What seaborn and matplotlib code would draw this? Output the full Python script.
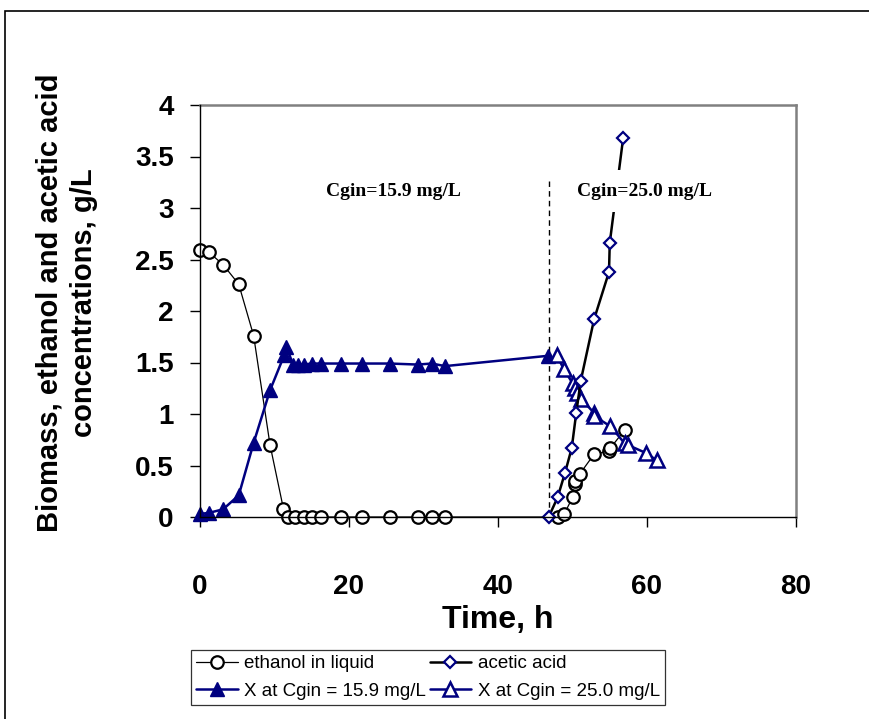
import matplotlib
matplotlib.use("Agg")
import matplotlib.pyplot as plt
import seaborn as sns
import numpy as np
import pandas as pd
from matplotlib.patches import Rectangle
from matplotlib.ticker import FormatStrFormatter

# ---- data ----
eth_t = [0, 1.2, 3.1, 5.2, 7.2, 9.4, 11.2, 11.8, 12.7, 13.9, 15.0, 16.2, 18.9,
         21.8, 25.5, 29.2, 31.1, 32.9, 48.0, 48.9, 50.0, 50.3, 50.4, 51.0,
         52.9, 54.9, 55.1, 57.0]
eth_v = [2.59, 2.57, 2.45, 2.26, 1.76, 0.70, 0.08, 0, 0, 0, 0, 0, 0,
         0, 0, 0, 0, 0, 0, 0.03, 0.19, 0.32, 0.35, 0.42,
         0.61, 0.64, 0.67, 0.845]

acid_t = [46.8, 48.0, 49.0, 49.9, 50.5, 51.1, 52.9, 54.9, 55.0, 56.8]
acid_v = [0, 0.19, 0.43, 0.67, 1.01, 1.32, 1.92, 2.38, 2.66, 3.68]

x159_t = [0, 1.2, 3.1, 5.2, 7.2, 9.4, 11.3, 11.6, 12.5, 13.2, 13.9, 15.0, 16.2,
          18.9, 21.8, 25.5, 29.2, 31.1, 32.9, 46.7]
x159_v = [0.03, 0.04, 0.075, 0.21, 0.72, 1.23, 1.57, 1.65, 1.48, 1.48, 1.48,
          1.49, 1.49, 1.49, 1.49, 1.49, 1.48, 1.49, 1.465, 1.565]

x250_t = [47.9, 48.8, 50.0, 50.3, 50.6, 51.1, 52.9, 52.9, 55.1, 57.0, 57.4,
          59.9, 61.3]
x250_v = [1.57, 1.44, 1.30, 1.25, 1.20, 1.15, 1.01, 0.98, 0.88, 0.715, 0.70,
          0.62, 0.55]

labels = ["ethanol in liquid", "acetic acid",
          "X at Cgin = 15.9 mg/L", "X at Cgin = 25.0 mg/L"]
xticks = [0, 20, 40, 60, 80]
yticks = [0, 0.5, 1, 1.5, 2, 2.5, 3, 3.5, 4]
switch_t = 46.8

NAVY = "#000080"

sns.set_style("white")
plt.rcParams["font.family"] = ["Liberation Sans", "DejaVu Sans"]
for k in ["text.color", "axes.labelcolor", "xtick.color", "ytick.color"]:
    plt.rcParams[k] = "black"

W, H = 869, 719
fig = plt.figure(figsize=(W / 100, H / 100), dpi=100)
ax = fig.add_axes([200 / W, 1 - 517 / H, (796 - 200) / W, (517 - 105) / H])

common = dict(estimator=None, sort=False, ax=ax, legend=False)

sns.lineplot(x=eth_t, y=eth_v, color="black", lw=0.9, marker="o",
             markersize=9, mfc="white", mec="black", mew=1.6,
             label=labels[0], clip_on=False, zorder=3, **common)
sns.lineplot(x=acid_t, y=acid_v, color="black", lw=1.8, marker="D",
             markersize=6.5, mfc="white", mec=NAVY, mew=1.6,
             label=labels[1], clip_on=False, zorder=4, **common)
sns.lineplot(x=x159_t, y=x159_v, color=NAVY, lw=1.8, marker="^",
             markersize=10, mfc=NAVY, mec=NAVY, mew=1.0,
             label=labels[2], clip_on=False, zorder=3, **common)
sns.lineplot(x=x250_t, y=x250_v, color=NAVY, lw=1.8, marker="^",
             markersize=9.5, mfc="white", mec=NAVY, mew=1.8,
             label=labels[3], clip_on=False, zorder=3, **common)

ax.vlines(switch_t, 0, 3.26, colors="black", linestyles=(0, (4, 3)), lw=1.0,
          zorder=2)

tfont = dict(family=["Liberation Serif", "DejaVu Serif"], fontweight="bold",
             fontsize=14, color="black")
ax.text(26.0, 3.165, "Cgin=15.9 mg/L", ha="center", va="center",
        zorder=6, **tfont)
ax.text(59.7, 3.165, "Cgin=25.0 mg/L", ha="center", va="center", zorder=6,
        bbox=dict(facecolor="white", edgecolor="none", pad=9), **tfont)

ax.set_xlim(0, 80)
ax.set_ylim(0, 4)
ax.set_xticks(xticks)
ax.set_yticks(yticks)
ax.yaxis.set_major_formatter(FormatStrFormatter("%g"))
ax.tick_params(axis="both", direction="out", length=7, width=1, color="black",
               labelcolor="black", labelsize=20)
ax.tick_params(axis="x", pad=34, bottom=True)
ax.tick_params(axis="y", pad=12, left=True)
for lab in ax.get_xticklabels() + ax.get_yticklabels():
    lab.set_fontweight("bold")

for s in ["left", "bottom"]:
    ax.spines[s].set_color("black")
    ax.spines[s].set_linewidth(1.0)
for s in ["top", "right"]:
    ax.spines[s].set_color("#808080")
    ax.spines[s].set_linewidth(1.8)
ax.spines["left"].set_zorder(5)
ax.spines["bottom"].set_zorder(5)

ax.set_xlabel("")
ax.set_ylabel("")
fig.text(498 / W, 1 - 620 / H, "Time, h", ha="center", va="center",
         fontsize=23, fontweight="bold", color="black")
fig.text(67 / W, 1 - 303 / H,
         "Biomass, ethanol and acetic acid\nconcentrations, g/L",
         rotation=90, ha="center", va="center", multialignment="center",
         fontsize=21, fontweight="bold", linespacing=1.3, color="black")

# legend (column-wise fill -> order handles accordingly)
handles, labs = ax.get_legend_handles_labels()
order = [labs.index(labels[0]), labs.index(labels[2]),
         labs.index(labels[1]), labs.index(labels[3])]
leg = fig.legend([handles[i] for i in order], [labs[i] for i in order],
                 ncol=2, loc="center", bbox_to_anchor=(428 / W, 1 - 677.5 / H),
                 frameon=True, fancybox=False, edgecolor="black",
                 fontsize=13.5, handlelength=2.2, handletextpad=0.35,
                 columnspacing=0.2, labelspacing=0.55, borderpad=0.3,
                 borderaxespad=0)
leg.get_frame().set_linewidth(0.9)

# outer chart border
fig.patches.append(Rectangle((5 / W, -0.1), 1.2, 1 - 11 / H + 0.1,
                             transform=fig.transFigure, fill=False,
                             edgecolor="black", lw=1.2))

fig.savefig("out.png", dpi=100)
